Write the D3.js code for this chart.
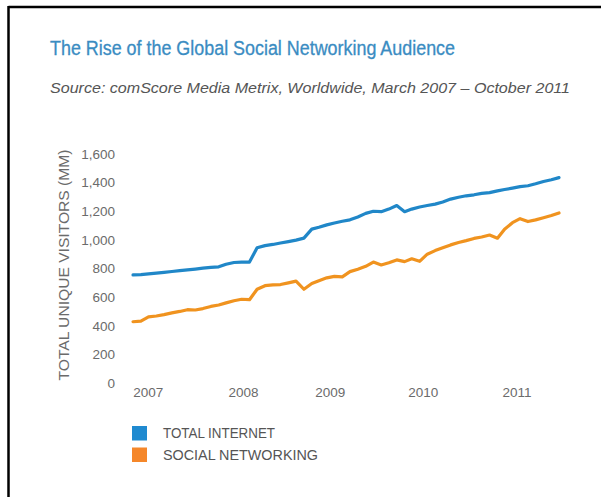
<!DOCTYPE html>
<html>
<head>
<meta charset="utf-8">
<script src="https://cdn.jsdelivr.net/npm/d3@7"></script>
<style>
  html, body { margin: 0; padding: 0; background: #fff; }
  svg { display: block; }
  text { font-family: "Liberation Sans", Arial, Helvetica, sans-serif; }
</style>
</head>
<body>
<svg id="chart" width="601" height="497"></svg>
<script>
// ---- Data (monthly, March 2007 – October 2011, millions of unique visitors) ----
const startMonth = [2007, 2];   // March 2007 (0-based month)
const totalInternet = [
  755, 757, 762, 768, 773, 779, 785, 790, 796, 802,
  808, 812, 830, 842, 845, 845, 945, 960, 968, 978,
  988, 998, 1012, 1075, 1088, 1105, 1118, 1130, 1140, 1160,
  1185, 1200, 1197, 1215, 1240, 1197, 1215, 1230, 1240, 1250,
  1265, 1285, 1298, 1308, 1315, 1325, 1330, 1342, 1352, 1362,
  1372, 1378, 1392, 1408, 1420, 1435
];
const socialNetworking = [
  428, 432, 462, 468, 478, 490, 500, 512, 510, 520,
  535, 545, 560, 575, 585, 582, 655, 680, 685, 688,
  700, 712, 655, 695, 715, 735, 745, 742, 778, 795,
  815, 845, 825, 840, 860, 848, 868, 850, 900, 925,
  945, 965, 982, 995, 1010, 1020, 1034, 1012, 1075, 1120,
  1148, 1128, 1140, 1155, 1170, 1188
];
const seriesNames = ["TOTAL INTERNET", "SOCIAL NETWORKING"];
const seriesColors = ["#2087c8", "#f0931f"];
const legendColors = ["#1f8ad0", "#f5872a"];
const yTicks = [0, 200, 400, 600, 800, 1000, 1200, 1400, 1600];
const xTickYears = [2007, 2008, 2009, 2010, 2011];
const xTickMonthPos = [1.9, 14.2, 25.4, 37.4, 49.5]; // label centres, months after March 2007

const titleText = "The Rise of the Global Social Networking Audience";
const subtitleText = "Source: comScore Media Metrix, Worldwide, March 2007 \u2013 October 2011";
const yTitleText = "TOTAL UNIQUE VISITORS (MM)";

// ---- Build ----
const dates = totalInternet.map((_, i) => new Date(startMonth[0], startMonth[1] + i, 1));
const svg = d3.select("#chart");

// frame
svg.append("line").attr("x1", 8.5).attr("x2", 601).attr("y1", 7).attr("y2", 7)
  .attr("stroke", "#000").attr("stroke-width", 2.5);
svg.append("line").attr("x1", 8.5).attr("x2", 8.5).attr("y1", 6).attr("y2", 497)
  .attr("stroke", "#000").attr("stroke-width", 2.5);

// titles
svg.append("text").attr("x", 50).attr("y", 55)
  .attr("font-size", 19.5).attr("fill", "#3a8cc2")
  .attr("stroke", "#3a8cc2").attr("stroke-width", 0.3)
  .attr("textLength", 405).attr("lengthAdjust", "spacingAndGlyphs")
  .text(titleText);
svg.append("text").attr("x", 50).attr("y", 93)
  .attr("font-size", 14.5).attr("font-style", "italic").attr("fill", "#555")
  .attr("textLength", 520).attr("lengthAdjust", "spacingAndGlyphs")
  .text(subtitleText);

// scales
const x = d3.scaleTime().domain([dates[0], dates[dates.length - 1]]).range([133, 559]);
const y = d3.scaleLinear().domain([0, 1600]).range([383, 154]);

// y axis
const yAxis = svg.append("g").attr("transform", "translate(118,0)")
  .call(d3.axisLeft(y).tickValues(yTicks).tickSize(0).tickPadding(3).tickFormat(d3.format(",")));
yAxis.select(".domain").remove();
yAxis.selectAll("text").attr("font-size", 13.5).attr("fill", "#6b6b6b")
  .attr("font-family", "'Liberation Sans', Arial, sans-serif");

// x axis
const monthMs = (dates[dates.length - 1] - dates[0]) / (dates.length - 1);
const xTickDates = xTickMonthPos.map(m => new Date(+dates[0] + m * monthMs));
const xAxis = svg.append("g").attr("transform", "translate(0,383)")
  .call(d3.axisBottom(x)
    .tickValues(xTickDates)
    .tickSize(0).tickPadding(4)
    .tickFormat((d, i) => String(xTickYears[i])));
xAxis.select(".domain").remove();
xAxis.selectAll("text").attr("font-size", 13.5).attr("fill", "#6b6b6b")
  .attr("font-family", "'Liberation Sans', Arial, sans-serif");

// y title
svg.append("text")
  .attr("transform", "translate(69,265) rotate(-90)")
  .attr("text-anchor", "middle")
  .attr("font-size", 15).attr("fill", "#6b6b6b")
  .attr("textLength", 231).attr("lengthAdjust", "spacingAndGlyphs")
  .text(yTitleText);

// lines
const line = d3.line().x((d, i) => x(dates[i])).y(d => y(d)).curve(d3.curveLinear);
[totalInternet, socialNetworking].forEach((s, k) => {
  svg.append("path").datum(s)
    .attr("d", line)
    .attr("fill", "none")
    .attr("stroke", seriesColors[k])
    .attr("stroke-width", 3.2)
    .attr("stroke-linejoin", "round")
    .attr("stroke-linecap", "round");
});

// legend
const legend = svg.append("g");
seriesNames.forEach((name, k) => {
  const g = legend.append("g").attr("transform", `translate(132,${426 + k * 21.5})`);
  g.append("rect").attr("width", 15).attr("height", 14.5).attr("fill", legendColors[k]);
  g.append("text").attr("x", 31).attr("y", 7.5).attr("dy", "0.35em")
    .attr("font-size", 14).attr("fill", "#555")
    .attr("textLength", k === 0 ? 112 : 155).attr("lengthAdjust", "spacingAndGlyphs")
    .text(name);
});
</script>
</body>
</html>
